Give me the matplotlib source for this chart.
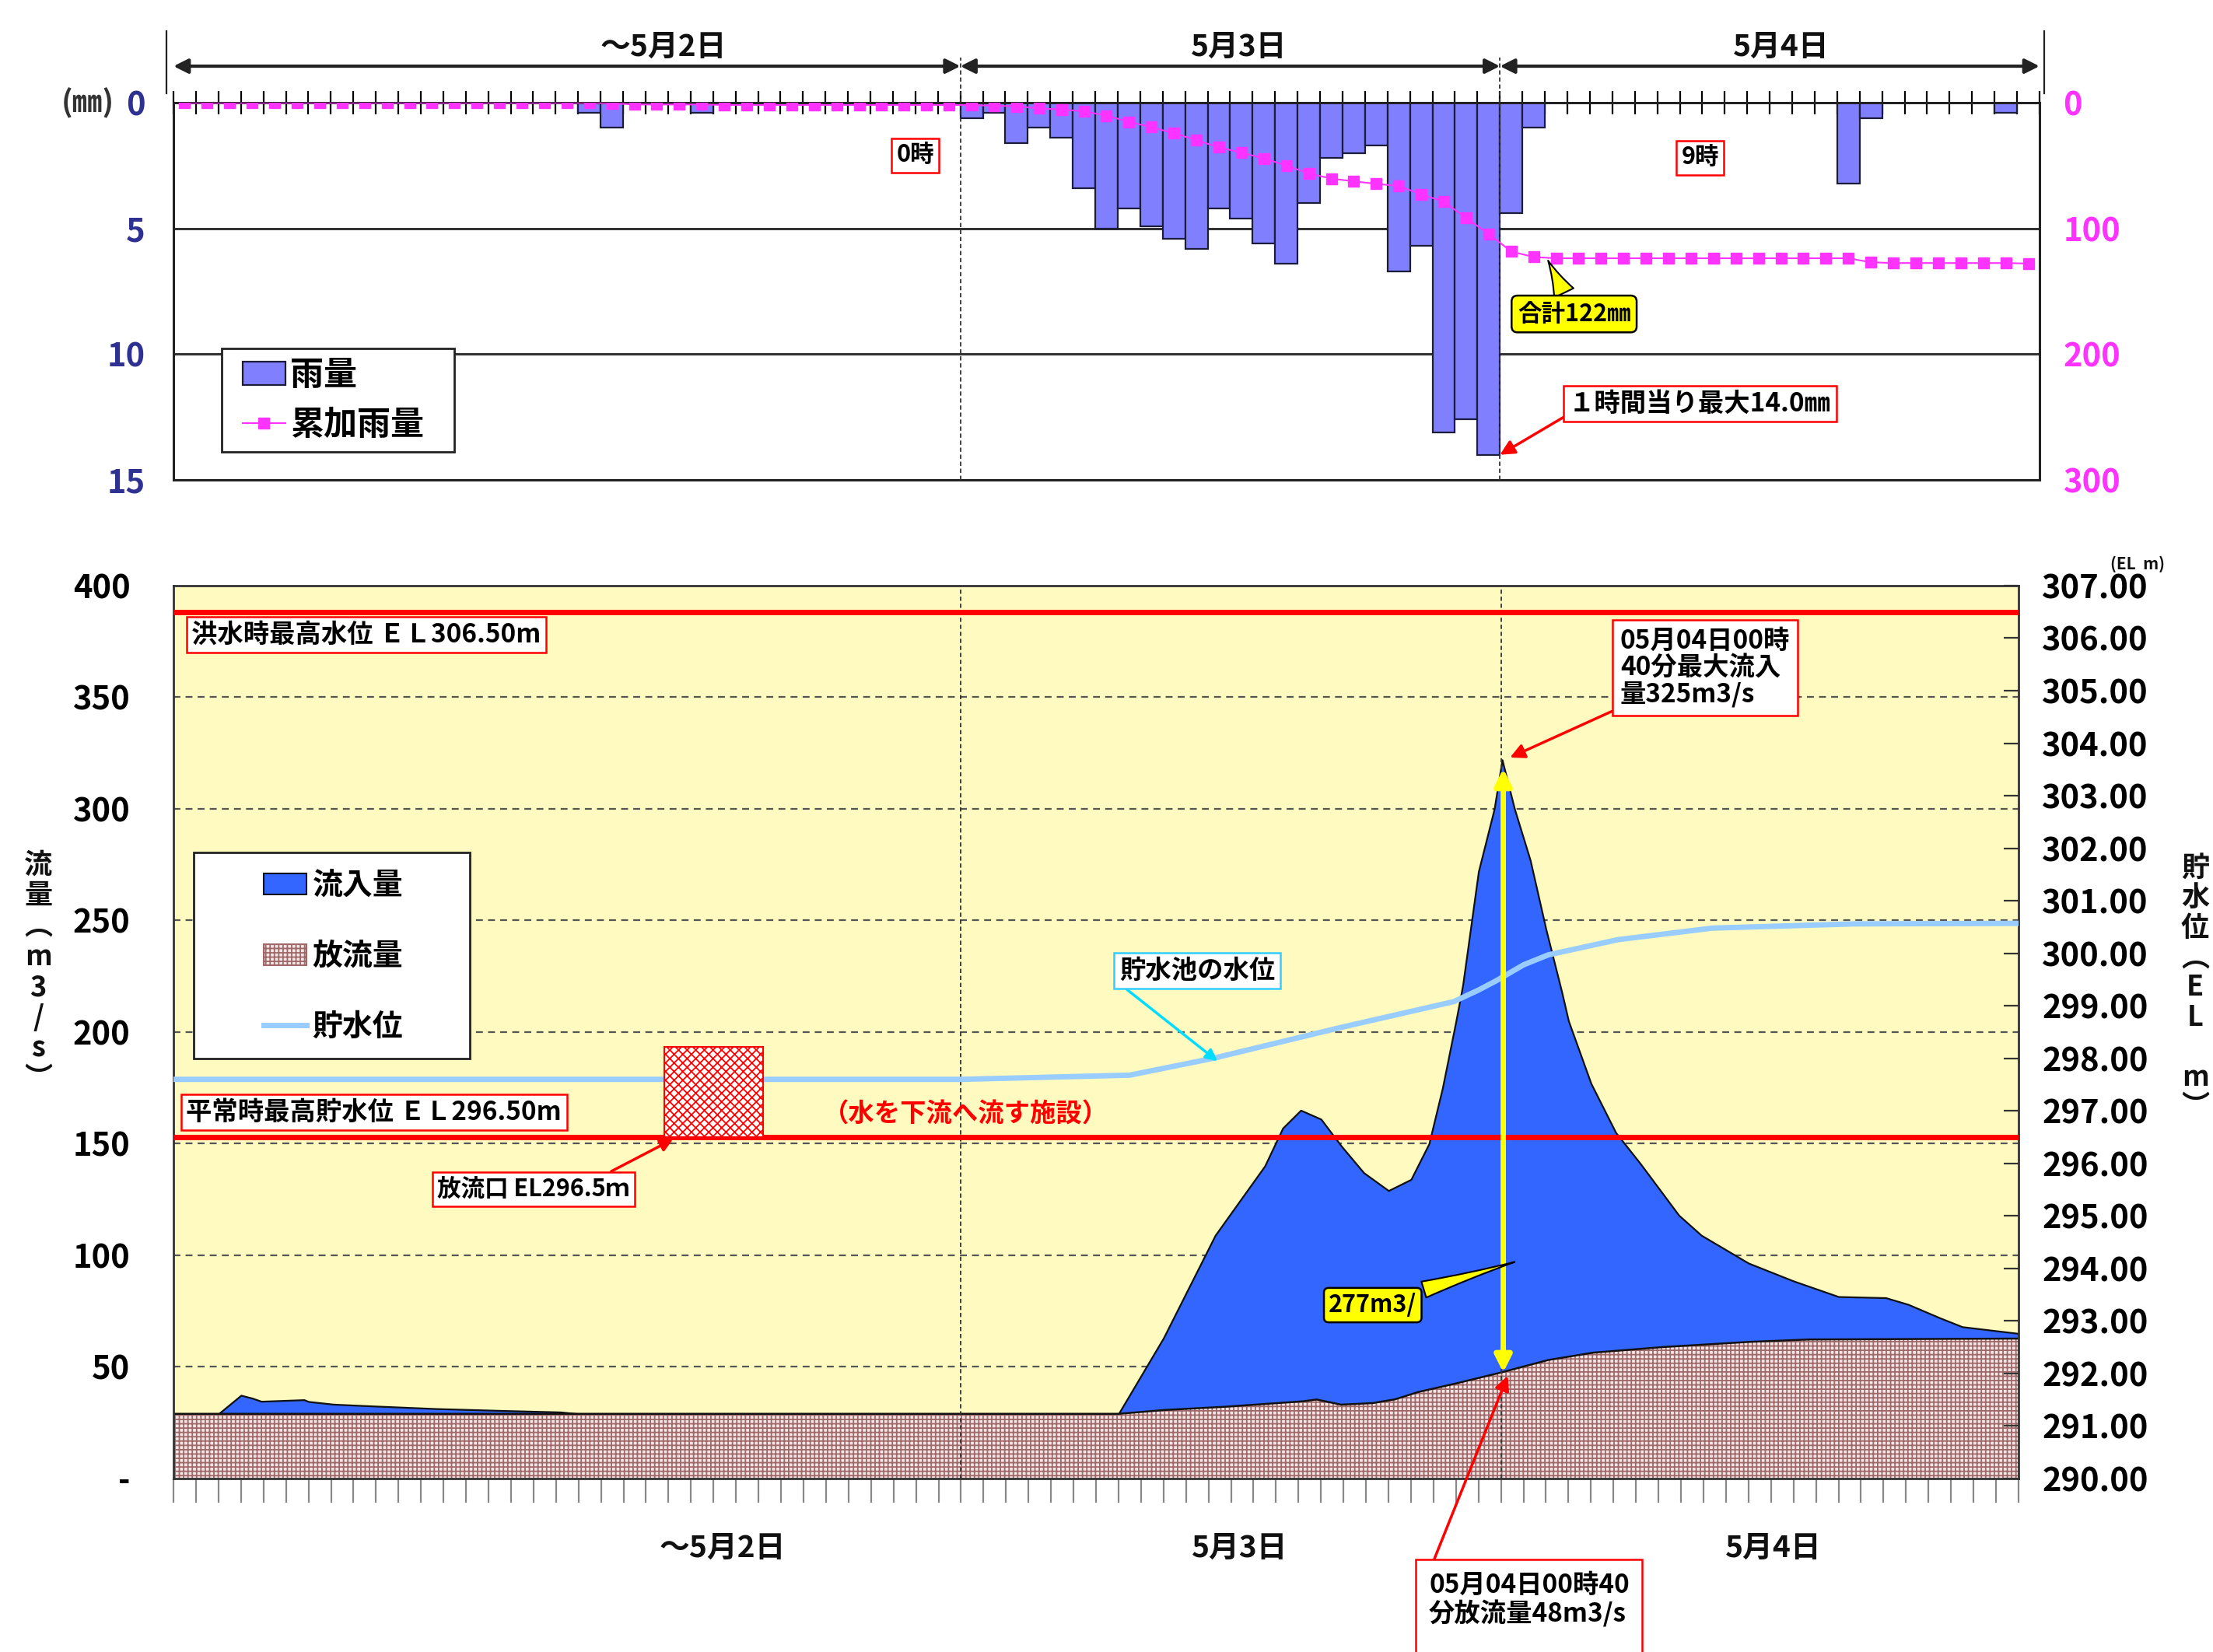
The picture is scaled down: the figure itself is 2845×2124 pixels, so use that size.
import numpy as np
import matplotlib.pyplot as plt
from matplotlib.patches import Patch, Rectangle
from matplotlib.lines import Line2D
from matplotlib.transforms import blended_transform_factory

plt.rcParams['font.family'] = ['Noto Sans CJK JP', 'DejaVu Sans']
plt.rcParams['font.weight'] = 'bold'
plt.rcParams['hatch.linewidth'] = 1.3

# ---------------- data ----------------
# hourly rainfall (mm), hour 0 .. 82
rain = [0, 0, 0, 0, 0, 0, 0, 0, 0, 0,
        0, 0, 0, 0, 0, 0, 0, 0, 0.4, 1.0,
        0, 0, 0, 0.4, 0, 0, 0, 0, 0, 0,
        0, 0, 0, 0, 0, 0.6, 0.4, 1.6, 1.0, 1.4,
        3.4, 5.0, 4.2, 4.9, 5.4, 5.8, 4.2, 4.6, 5.6, 6.4,
        4.0, 2.2, 2.0, 1.7, 6.7, 5.7, 13.1, 12.6, 14.0, 4.4,
        1.0, 0, 0, 0, 0, 0, 0, 0, 0, 0,
        0, 0, 0, 0, 3.2, 0.6, 0, 0, 0, 0,
        0, 0.4, 0]
day_bounds = [35, 59]
day_names = ['～5月2日', '5月3日', '5月4日']

# inflow (m3/s)
inflow_t = [0, 2.0, 3.0, 3.5, 3.9, 5.8, 6.0, 7.1, 8.6, 11.7, 14.5, 17.2, 18.0, 42.0,
            44.0, 46.3, 48.5, 49.3, 50.1, 51.0, 51.9, 52.9, 54.0, 55.0, 55.8, 56.4,
            57.0, 57.3, 58.0, 58.7, 59.05, 59.6, 60.3, 61.0, 61.7, 62.0, 63.0, 64.1,
            65.2, 66.9, 67.9, 70.0, 72.0, 74.0, 76.1, 77.1, 78.5, 79.5, 82.0]
inflow_q = [29, 29, 37.3, 36, 34.6, 35.3, 34.5, 33.3, 32.6, 31.3, 30.5, 29.8, 29, 29,
            63, 109, 140, 157, 165, 161, 149, 137, 129, 134, 150, 175,
            205, 221, 272, 300, 322, 300, 277, 246, 218, 205, 177, 155,
            141, 118, 109, 96.5, 88.5, 81.5, 81, 78, 72, 68, 65]
# outflow (m3/s)
outflow_t = [0, 42.0, 44.05, 46.8, 50.2, 50.8, 51.9, 53.3, 54.3, 55.3, 57.0, 59.0,
             61.1, 63.1, 66.2, 70.0, 72.7, 82.0]
outflow_q = [29, 29, 30.7, 32.2, 34.6, 35.4, 33.1, 33.8, 35.5, 38.7, 42.6, 47.5,
             53.1, 56.4, 58.9, 61.2, 62.3, 62.7]
# reservoir level (EL m)
level_t = [0, 35, 42.5, 46.2, 51.9, 56.9, 58.0, 58.8, 60.0, 61.1, 64.2, 68.4, 74.7, 82]
level_el = [297.6, 297.6, 297.68, 298.0, 298.59, 299.08, 299.3, 299.48, 299.78, 299.97,
            300.26, 300.48, 300.56, 300.57]

el_flood = 306.5
el_normal = 296.5
flow_ticks = [0, 50, 100, 150, 200, 250, 300, 350, 400]
flow_labels = ['-', '50', '100', '150', '200', '250', '300', '350', '400']
el_ticks = [290, 291, 292, 293, 294, 295, 296, 297, 298, 299, 300, 301, 302, 303,
            304, 305, 306, 307]

hours = np.arange(len(rain))
cum = np.concatenate([[0], np.cumsum(rain)[:-1]])

fig = plt.figure(figsize=(28.45, 21.24), dpi=100)

# ---------------- rainfall panel ----------------
ax1 = fig.add_axes([0.0784, 0.7095, 0.8432, 0.2283])
ax1.set_xlim(0, 83)
ax1.set_ylim(15, 0)
for g in [5, 10]:
    ax1.axhline(g, color='#333333', lw=2.2, zorder=0.5)
ax1.bar(hours + 0.5, rain, width=1.0, color='#8080FF', edgecolor='#1c1c3c',
        linewidth=1.6, zorder=2)
for d in day_bounds:
    ax1.axvline(d, color='#333333', ls=(0, (3, 2)), lw=1.3, zorder=3)
ax1.set_yticks([0, 5, 10, 15])
ax1.set_yticklabels(['0', '5', '10', '15'])
ax1.tick_params(axis='y', length=0, pad=26, labelsize=30, labelcolor='#2E3192')
ax1.set_xticks(np.arange(0, 84))
ax1.tick_params(axis='x', top=True, bottom=False, labeltop=False, labelbottom=False,
                direction='inout', length=22, width=1.6, color='black')
for s in ax1.spines.values():
    s.set_linewidth(2.2)
    s.set_color('#222222')

ax1r = ax1.twinx()
ax1r.set_ylim(300, 0)
ax1r.plot(hours + 0.5, cum, color='#FF33FF', lw=1.5, marker='s', ms=10,
          zorder=4)
ax1r.set_yticks([0, 100, 200, 300])
ax1r.tick_params(axis='y', length=0, pad=22, labelsize=30, labelcolor='#FF33FF')
for s in ax1r.spines.values():
    s.set_visible(False)

fig.text(113 / 2845, 1 - 132 / 2124, '(㎜)', fontsize=28, color='#333333',
         ha='center', va='center')

# day arrows above the rainfall panel
tr1 = blended_transform_factory(ax1.transData, ax1.transAxes)
edges = [0] + day_bounds + [83]
for a, b in zip(edges[:-1], edges[1:]):
    ax1r.annotate('', xy=(b, 1.097), xytext=(a, 1.097), xycoords=tr1,
                  textcoords=tr1, annotation_clip=False,
                  arrowprops=dict(arrowstyle='<|-|>', color='#222222', lw=3,
                                  mutation_scale=28, shrinkA=0, shrinkB=0))
for xv in [-0.3, 83.2]:
    ax1r.add_line(Line2D([xv, xv], [1.025, 1.19], transform=tr1, color='#222222',
                         lw=1.6, clip_on=False))
for d in day_bounds:
    ax1r.add_line(Line2D([d, d], [1.0, 1.12], transform=tr1, color='#333333',
                         lw=1.3, ls=(0, (3, 2)), clip_on=False))
for xv, name in zip([21.8, 47.4, 71.5], day_names):
    ax1r.text(xv, 1.148, name, transform=tr1, fontsize=28, ha='center',
              va='center', color='#111111')

box_red = dict(boxstyle='square,pad=0.2', fc='white', ec='red', lw=1.8)
ax1r.text(33.0, 2.1, '0時', transform=ax1.transData, fontsize=22, ha='center',
          va='center', bbox=box_red, zorder=6)
ax1r.text(67.9, 2.2, '9時', transform=ax1.transData, fontsize=22, ha='center',
          va='center', bbox=box_red, zorder=6)
ax1r.annotate('合計122㎜', xy=(61.1, 6.2), xytext=(62.3, 8.4),
              xycoords=ax1.transData, textcoords=ax1.transData, fontsize=22,
              ha='center', va='center', zorder=6,
              bbox=dict(boxstyle='round,pad=0.25', fc='yellow', ec='black', lw=1.8),
              arrowprops=dict(arrowstyle='wedge,tail_width=0.9,shrink_factor=0.4',
                              fc='yellow', ec='black', lw=1.5))
ax1r.annotate('１時間当り最大14.0㎜', xy=(59.0, 14.0), xytext=(67.9, 11.97),
              xycoords=ax1.transData, textcoords=ax1.transData, fontsize=24,
              ha='center', va='center', zorder=6, bbox=box_red,
              arrowprops=dict(arrowstyle='-|>', color='red', lw=2.5,
                              mutation_scale=28, relpos=(0, 0.1),
                              shrinkA=0, shrinkB=0))

# legend of the rainfall panel: frame drawn by hand at the reference spot
ax1r.add_patch(Rectangle((0.0258, 0.0742), 0.1247, 0.2743, transform=ax1.transAxes,
                         fc='white', ec='#222222', lw=2, zorder=4.5))
ax1r.legend(handles=[Patch(fc='#8080FF', ec='#1c1c3c', lw=1.6),
                     Line2D([], [], color='#FF33FF', lw=1.5, marker='s', ms=10)],
            labels=['雨量', '累加雨量'], loc='center left',
            bbox_to_anchor=(0.0371, 0.2124), fontsize=31, frameon=False,
            handlelength=1.27, handletextpad=0.15, borderpad=0,
            borderaxespad=0, labelspacing=0.45)

# ---------------- flow panel ----------------
ax2 = fig.add_axes([0.0784, 0.105, 0.8337, 0.5405])
ax2.set_facecolor('#FFFBC0')
ax2.set_xlim(0, 82)
ax2.set_ylim(0, 400)
for g in flow_ticks[1:-1]:
    ax2.axhline(g, color='#555555', ls=(0, (4, 3)), lw=1.6, zorder=0.5)
ax2.fill_between(inflow_t, inflow_q, color='#3366FF', ec='#111111', lw=1.6, zorder=1)
ax2.fill_between(outflow_t, outflow_q, facecolor='#F2E6E6', edgecolor='#A06868',
                 hatch='+++', lw=0, zorder=1.5)
ax2.plot(outflow_t, outflow_q, color='#111111', lw=1.8, zorder=1.6)
for d in day_bounds:
    ax2.axvline(d, color='#333333', ls=(0, (3, 2)), lw=1.3, zorder=2)
ax2.set_yticks(flow_ticks)
ax2.set_yticklabels(flow_labels)
ax2.tick_params(axis='y', length=0, pad=40, labelsize=30)
ax2.set_xticks(np.arange(0, 83))
ax2.tick_params(axis='x', direction='out', length=22, width=1.6, color='#888888',
                labelbottom=False)
for s in ax2.spines.values():
    s.set_linewidth(2)
    s.set_color('#333333')

ax2r = ax2.twinx()
ax2r.set_ylim(290, 307)
ax2r.axhline(el_flood, color='red', lw=5, zorder=3)
ax2r.axhline(el_normal, color='red', lw=5, zorder=3)
ax2r.plot(level_t, level_el, color='#99CCFF', lw=5, zorder=2)
ax2r.set_yticks(el_ticks)
ax2r.set_yticklabels(['%.2f' % v for v in el_ticks])
ax2r.tick_params(axis='y', direction='in', length=14, width=1.6, color='#333333',
                 pad=22, labelsize=30)
for s in ax2r.spines.values():
    s.set_visible(False)

tr2 = blended_transform_factory(ax2.transData, ax2.transAxes)
for xv, name in zip([24.4, 47.4, 71.1], day_names):
    ax2r.text(xv, -0.0775, name, transform=tr2, fontsize=28, ha='center',
              va='center', color='#111111')

td = ax2.transData
ax2r.text(0.8, 378, '洪水時最高水位 ＥＬ306.50m', transform=td, fontsize=24,
          ha='left', va='center', bbox=box_red, zorder=6)
ax2r.text(0.56, 164, '平常時最高貯水位 ＥＬ296.50m', transform=td, fontsize=24,
          ha='left', va='center', bbox=box_red, zorder=6)
ax2r.add_patch(Rectangle((21.8, 152.9), 4.4, 40.5, transform=td, fc='white',
                         ec='red', hatch='xxx', lw=1.5, zorder=4))
ax2r.text(35.2, 163, '（水を下流へ流す施設）', transform=td, fontsize=24,
          color='red', ha='center', va='center', zorder=6)
ax2r.annotate('放流口 EL296.5ｍ', xy=(22.2, 152), xytext=(16.0, 129.6),
              xycoords=td, textcoords=td, fontsize=22, ha='center', va='center',
              bbox=box_red, zorder=6,
              arrowprops=dict(arrowstyle='-|>', color='red', lw=2.5,
                              mutation_scale=24, relpos=(0.85, 1.0),
                              shrinkA=0, shrinkB=0))
ax2r.annotate('貯水池の水位', xy=(46.4, 187), xytext=(45.5, 227.5),
              xycoords=td, textcoords=td, fontsize=24, ha='center', va='center',
              bbox=dict(boxstyle='square,pad=0.2', fc='white', ec='#33CCFF', lw=1.8),
              zorder=6,
              arrowprops=dict(arrowstyle='-|>', color='#00DDFF', lw=2.5,
                              mutation_scale=22, relpos=(0, 0),
                              shrinkA=0, shrinkB=0))
ax2r.annotate('05月04日00時\n40分最大流入\n量325m3/s', xy=(59.4, 323),
              xytext=(64.3, 381), xycoords=td, textcoords=td, fontsize=24,
              ha='left', va='top', linespacing=1.05, zorder=6,
              bbox=dict(boxstyle='square,pad=0.3', fc='white', ec='red', lw=1.8),
              arrowprops=dict(arrowstyle='-|>', color='red', lw=2.5,
                              mutation_scale=28, relpos=(0, 0),
                              shrinkA=0, shrinkB=0))
ax2r.annotate('', xy=(59.1, 318), xytext=(59.1, 47.5), xycoords=td, textcoords=td,
              zorder=5,
              arrowprops=dict(arrowstyle='<|-|>', color='#FFFF00', lw=5,
                              mutation_scale=32, shrinkA=0, shrinkB=0))
ax2r.annotate('277m3/', xy=(59.7, 97.3), xytext=(53.3, 77.7),
              xycoords=td, textcoords=td, fontsize=22, ha='center', va='center',
              zorder=6,
              bbox=dict(boxstyle='round,pad=0.2', fc='yellow', ec='black', lw=1.8),
              arrowprops=dict(arrowstyle='wedge,tail_width=0.7,shrink_factor=0.4',
                              fc='yellow', ec='black', lw=1.5))
ax2r.annotate('05月04日00時40\n分放流量48m3/s\n ', xy=(59.3, 46), xytext=(55.8, -42),
              xycoords=td, textcoords=td, fontsize=24, ha='left', va='top',
              linespacing=1.1, zorder=6, annotation_clip=False,
              bbox=dict(boxstyle='square,pad=0.5', fc='white', ec='red', lw=1.8),
              arrowprops=dict(arrowstyle='-|>', color='red', lw=2.5,
                              mutation_scale=28, relpos=(0, 1),
                              shrinkA=0, shrinkB=0))

# legend of the flow panel: frame drawn by hand at the reference spot
ax2r.add_patch(Rectangle((0.0108, 0.470), 0.1499, 0.231, transform=ax2.transAxes,
                         fc='white', ec='#222222', lw=2, zorder=4.5))
ax2r.legend(handles=[Patch(fc='#3366FF', ec='#111111', lw=1.5),
                     Patch(fc='#F2E6E6', ec='#A06868', hatch='+++', lw=1.5),
                     Line2D([], [], color='#99CCFF', lw=5)],
            labels=['流入量', '放流量', '貯水位'], loc='center left',
            bbox_to_anchor=(0.049, 0.585), fontsize=28, frameon=False,
            handlelength=1.4, handletextpad=0.2, borderpad=0, borderaxespad=0,
            labelspacing=1.33)

fig.text(49 / 2845, 1 - 1250 / 2124, '流\n量\n︵\nm\n3\n/\ns\n︶', fontsize=26,
         ha='center', va='center', linespacing=1.08, color='#111111')
fig.text(2822 / 2845, 1 - 1270 / 2124, '貯\n水\n位\n︵\nE\nL\n \nm\n︶', fontsize=26,
         ha='center', va='center', linespacing=1.05, color='#111111')
fig.text(2748 / 2845, 1 - 725 / 2124, '(EL  m)', fontsize=15, ha='center',
         va='center', color='#111111')

fig.savefig('out.png', dpi=100)
